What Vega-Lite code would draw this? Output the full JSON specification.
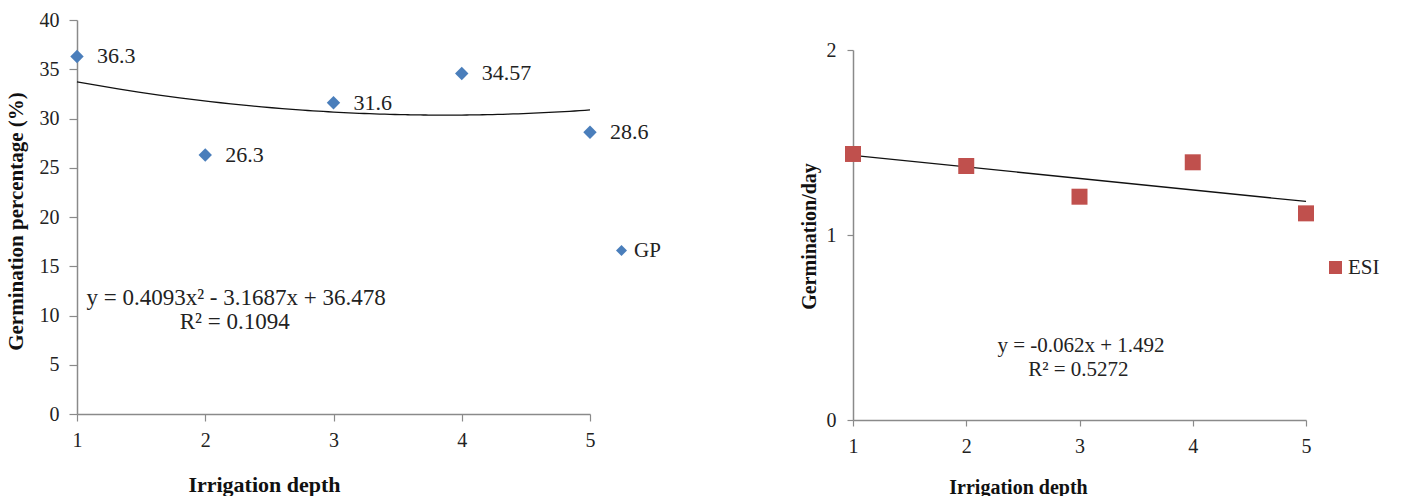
{
  "$schema": "https://vega.github.io/schema/vega-lite/v6.json",
  "background": "white",
  "padding": {"left": 5, "top": 10, "right": 5, "bottom": 0},
  "spacing": 263,
  "bounds": "flush",
  "resolve": {"scale": {"color": "independent"}, "legend": {"color": "independent"}},
  "config": {
    "view": {"stroke": null},
    "font": "Liberation Serif",
    "axis": {
      "grid": false,
      "domainColor": "#8a8a8a",
      "domainWidth": 1.5,
      "tickColor": "#8a8a8a",
      "tickWidth": 1.2,
      "labelFlush": false,
      "labelOverlap": false,
      "labelBound": false,
      "labelFont": "Liberation Serif",
      "labelColor": "#222222",
      "titleFont": "Liberation Serif",
      "titleColor": "#111111",
      "titleFontWeight": "bold"
    },
    "legend": {"labelFont": "Liberation Serif", "labelColor": "#222222"}
  },
  "hconcat": [
    {
      "width": 513,
      "height": 394,
      "data": {"values": [
        {"depth": 1, "GP": 36.3, "series": "GP"},
        {"depth": 2, "GP": 26.3, "series": "GP"},
        {"depth": 3, "GP": 31.6, "series": "GP"},
        {"depth": 4, "GP": 34.57, "series": "GP"},
        {"depth": 5, "GP": 28.6, "series": "GP"}
      ]},
      "layer": [
        {
          "transform": [{"regression": "GP", "on": "depth", "method": "poly", "order": 2}],
          "mark": {"type": "line", "color": "#111111", "strokeWidth": 1.3},
          "encoding": {
            "x": {"field": "depth", "type": "quantitative",
              "scale": {"domain": [1, 5], "nice": false, "zero": false},
              "axis": {"values": [1, 2, 3, 4, 5], "format": "d", "tickSize": 7, "labelPadding": 9, "labelFontSize": 20,
                "title": "Irrigation depth", "titleFontSize": 22, "titleX": 187, "titleY": 70, "titleBaseline": "middle", "titleAlign": "center"}},
            "y": {"field": "GP", "type": "quantitative",
              "scale": {"domain": [0, 40], "nice": false},
              "axis": {"values": [0, 5, 10, 15, 20, 25, 30, 35, 40], "format": "d", "tickSize": 8, "labelPadding": 10, "labelFontSize": 20,
                "title": "Germination percentage (%)", "titleFontSize": 21, "titleAngle": -90, "titleX": -61, "titleY": 201, "titleBaseline": "middle", "titleAlign": "center"}}
          }
        },
        {
          "mark": {"type": "point", "shape": "diamond", "filled": true, "size": 180, "opacity": 1},
          "encoding": {
            "x": {"field": "depth", "type": "quantitative"},
            "y": {"field": "GP", "type": "quantitative"},
            "color": {"field": "series", "type": "nominal",
              "scale": {"domain": ["GP"], "range": ["#4A7EBB"]},
              "legend": {"title": null, "orient": "none", "legendX": 534, "legendY": 220, "padding": 0,
                "symbolType": "diamond", "symbolSize": 120, "symbolStrokeWidth": 0, "labelFontSize": 21, "labelOffset": 2}}
          }
        },
        {
          "mark": {"type": "text", "align": "left", "baseline": "middle", "dx": 20, "fontSize": 22, "color": "#222222"},
          "encoding": {
            "x": {"field": "depth", "type": "quantitative"},
            "y": {"field": "GP", "type": "quantitative"},
            "text": {"field": "GP", "type": "nominal"}
          }
        },
        {
          "transform": [{"filter": "datum.depth == 1"}],
          "mark": {"type": "text", "align": "center", "baseline": "middle", "fontSize": 23, "color": "#222222"},
          "encoding": {
            "x": {"datum": 2.24},
            "y": {"datum": 11.78},
            "text": {"value": "y = 0.4093x² - 3.1687x + 36.478"}
          }
        },
        {
          "transform": [{"filter": "datum.depth == 1"}],
          "mark": {"type": "text", "align": "center", "baseline": "middle", "fontSize": 23, "color": "#222222"},
          "encoding": {
            "x": {"datum": 2.23},
            "y": {"datum": 9.34},
            "text": {"value": "R² = 0.1094"}
          }
        }
      ]
    },
    {
      "width": 453,
      "height": 400,
      "data": {"values": [
        {"depth": 1, "ESI": 1.438, "series": "ESI"},
        {"depth": 2, "ESI": 1.373, "series": "ESI"},
        {"depth": 3, "ESI": 1.207, "series": "ESI"},
        {"depth": 4, "ESI": 1.393, "series": "ESI"},
        {"depth": 5, "ESI": 1.117, "series": "ESI"}
      ]},
      "layer": [
        {
          "transform": [{"regression": "ESI", "on": "depth", "method": "linear"}],
          "mark": {"type": "line", "color": "#111111", "strokeWidth": 1.3},
          "encoding": {
            "x": {"field": "depth", "type": "quantitative",
              "scale": {"domain": [1, 5], "nice": false, "zero": false},
              "axis": {"values": [1, 2, 3, 4, 5], "format": "d", "tickSize": 6, "labelPadding": 10, "labelFontSize": 20,
                "title": "Irrigation depth", "titleFontSize": 20, "titleX": 165, "titleY": 67, "titleBaseline": "middle", "titleAlign": "center"}},
            "y": {"field": "ESI", "type": "quantitative",
              "scale": {"domain": [0, 2], "nice": false, "range": [400, 30]},
              "axis": {"values": [0, 1, 2], "labelExpr": "replace(datum.label, '.0', '')", "tickSize": 6, "labelPadding": 11, "labelFontSize": 20,
                "title": "Germination/day", "titleFontSize": 20, "titleAngle": -90, "titleX": -44, "titleY": 216, "titleBaseline": "middle", "titleAlign": "center"}}
          }
        },
        {
          "mark": {"type": "point", "shape": "square", "filled": true, "size": 256, "opacity": 1},
          "encoding": {
            "x": {"field": "depth", "type": "quantitative"},
            "y": {"field": "ESI", "type": "quantitative"},
            "color": {"field": "series", "type": "nominal",
              "scale": {"domain": ["ESI"], "range": ["#C0504D"]},
              "legend": {"title": null, "orient": "none", "legendX": 472, "legendY": 237, "padding": 0,
                "symbolType": "square", "symbolSize": 170, "symbolStrokeWidth": 0, "labelFontSize": 21, "labelOffset": 2}}
          }
        },
        {
          "transform": [{"filter": "datum.depth == 1"}],
          "mark": {"type": "text", "align": "center", "baseline": "middle", "fontSize": 21, "color": "#222222"},
          "encoding": {
            "x": {"datum": 3.013},
            "y": {"datum": 0.4},
            "text": {"value": "y = -0.062x + 1.492"}
          }
        },
        {
          "transform": [{"filter": "datum.depth == 1"}],
          "mark": {"type": "text", "align": "center", "baseline": "middle", "fontSize": 21, "color": "#222222"},
          "encoding": {
            "x": {"datum": 2.99},
            "y": {"datum": 0.27},
            "text": {"value": "R² = 0.5272"}
          }
        }
      ]
    }
  ]
}
